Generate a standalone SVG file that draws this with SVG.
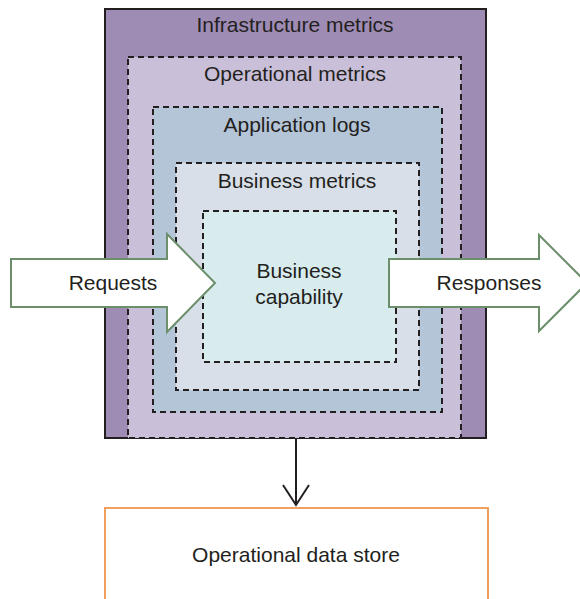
<svg xmlns="http://www.w3.org/2000/svg" width="580" height="599" viewBox="0 0 580 599">
<style>
text{font-family:"Liberation Sans",Arial,sans-serif;font-size:21px;fill:#231f20;text-anchor:middle}
.d{stroke:#231f20;stroke-width:2;stroke-dasharray:6 4}
.arr{fill:#ffffff;stroke:#6b8f6b;stroke-width:2}
</style>
<rect width="580" height="599" fill="#ffffff"/>
<g id="infrastructure">
<rect x="105" y="9" width="381" height="429" fill="#9e8cb4" stroke="#231f20" stroke-width="2"/>
<text x="295" y="32">Infrastructure metrics</text>
</g>
<g id="operational">
<rect x="128" y="57" width="333" height="381" fill="#c9bfd8" class="d"/>
<text x="295" y="81">Operational metrics</text>
</g>
<g id="applogs">
<rect x="153" y="107" width="289" height="305" fill="#b5c5d8" class="d"/>
<text x="297" y="132">Application logs</text>
</g>
<g id="business-metrics">
<rect x="176" y="163" width="243" height="227" fill="#d8dfe8" class="d"/>
<text x="297" y="188">Business metrics</text>
</g>
<g id="capability">
<rect x="203" y="211" width="193" height="151" fill="#d8ecee" class="d"/>
<text x="299" y="278">Business</text>
<text x="299" y="304">capability</text>
</g>
<g id="requests">
<polygon class="arr" points="11,259 167,259 167,234 215,283 167,332 167,307 11,307"/>
<text x="113" y="290">Requests</text>
</g>
<g id="responses">
<polygon class="arr" points="389,259 539,259 539,235 587,283 539,331 539,307 389,307"/>
<text x="489" y="290">Responses</text>
</g>
<g id="datastore">
<polyline points="105,620 105,508 488,508 488,620" fill="#ffffff" stroke="#f0a05c" stroke-width="2"/>
<text x="296" y="562">Operational data store</text>
</g>
<g id="connectors">
<line x1="296" y1="438" x2="296" y2="505" stroke="#231f20" stroke-width="2"/>
<polyline points="283,485 296,505 309,485" fill="none" stroke="#231f20" stroke-width="2"/>
</g>
</svg>
